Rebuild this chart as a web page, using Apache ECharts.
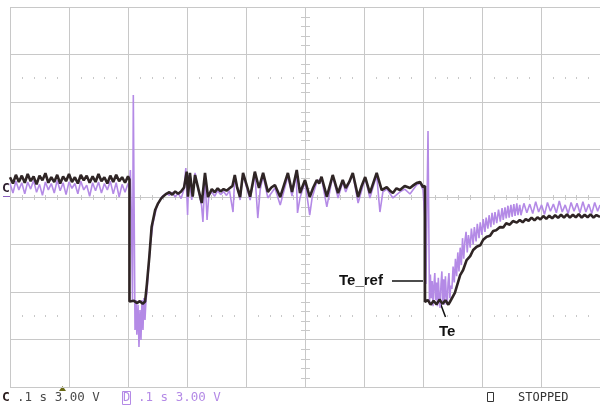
<!DOCTYPE html>
<html>
<head>
<meta charset="utf-8">
<script src="https://cdn.jsdelivr.net/npm/echarts@6/dist/echarts.min.js"></script>
<style>html,body{margin:0;padding:0;background:#fff}#chart{width:600px;height:410px}</style>
</head>
<body>
<div id="chart"></div>
<script>
// scope settings: 0.1 s/div, 3.00 V/div, 10 x 8 divisions
var timeMin = 0, timeMax = 1.0, timeDiv = 0.1;
var voltMin = -12, voltMax = 12, voltDiv = 3;

// channel C: Te_ref  [time s, volts]
var teRef = [
  [0.000,1.25],[0.005,0.85],[0.010,1.40],[0.015,0.95],[0.020,1.35],[0.025,0.90],[0.030,1.45],[0.035,1.00],
  [0.040,1.30],[0.045,0.80],[0.050,1.35],[0.055,1.05],[0.060,1.50],[0.065,0.90],[0.070,1.25],[0.075,0.95],
  [0.080,1.40],[0.085,0.85],[0.090,1.30],[0.095,1.00],[0.100,1.45],[0.105,0.95],[0.110,1.25],[0.115,0.85],
  [0.120,1.40],[0.125,1.05],[0.130,1.35],[0.135,0.90],[0.140,1.30],[0.145,0.95],[0.150,1.45],[0.155,1.00],
  [0.160,1.25],[0.165,0.85],[0.170,1.35],[0.175,0.95],[0.180,1.40],[0.185,1.00],[0.190,1.25],[0.195,0.90],
  [0.200,1.30],[0.2025,1.10],[0.2025,-6.60],
  [0.2050,-6.72],[0.2100,-6.55],[0.2150,-6.70],[0.2200,-6.58],[0.2250,-6.74],[0.2290,-6.60],
  [0.2320,-5.50],[0.2360,-3.85],[0.2400,-1.90],[0.2460,-0.82],[0.2510,-0.40],[0.2560,-0.10],[0.2600,0.05],
  [0.2650,0.20],[0.2700,0.30],[0.2750,0.15],[0.2800,0.35],[0.2850,0.20],[0.2900,0.35],[0.2950,0.60],
  [0.2995,1.60],[0.3017,0.02],[0.3050,1.52],[0.3097,0.02],[0.3136,1.39],[0.3180,0.70],[0.3250,-0.38],
  [0.3305,1.52],[0.3356,0.00],[0.3420,0.50],[0.3470,0.30],[0.3520,0.55],[0.3570,0.35],[0.3620,0.50],
  [0.3670,0.40],[0.3720,0.55],[0.3770,0.70],[0.3810,1.39],[0.3850,0.60],[0.3900,0.00],[0.3950,1.52],
  [0.4000,0.90],[0.4070,0.02],[0.4150,1.60],[0.4220,0.57],[0.4290,1.52],[0.4370,0.32],[0.4430,0.60],
  [0.4490,0.76],[0.4580,0.00],[0.4640,0.70],[0.4710,1.52],[0.4780,0.32],[0.4860,1.71],[0.4915,0.25],
  [0.5000,1.07],[0.5080,0.00],[0.5140,0.60],[0.5200,1.07],[0.5240,0.85],[0.5280,1.28],[0.5370,0.02],
  [0.5470,1.39],[0.5560,0.25],[0.5640,1.07],[0.5690,0.57],[0.5750,0.95],[0.5810,1.52],[0.5900,0.00],
  [0.5960,0.70],[0.6020,1.26],[0.6100,0.25],[0.6215,1.52],[0.6300,0.44],[0.6385,0.63],[0.6440,0.40],
  [0.6490,0.25],[0.6550,0.55],[0.6610,0.44],[0.6690,0.70],[0.6780,0.57],[0.6840,0.75],[0.6890,0.88],
  [0.6950,0.95],[0.7000,0.63],[0.7034,0.70],[0.7034,-6.63],
  [0.7080,-6.50],[0.7130,-6.80],[0.7180,-6.55],[0.7230,-6.78],[0.7280,-6.48],[0.7330,-6.75],[0.7380,-6.52],
  [0.7430,-6.80],[0.7460,-6.60],
  [0.7540,-6.06],[0.7630,-4.93],[0.7680,-4.61],[0.7740,-3.98],[0.7800,-3.73],[0.7850,-3.35],[0.7910,-3.14],
  [0.7970,-3.05],[0.8020,-2.70],[0.8080,-2.51],[0.8136,-2.45],[0.8190,-2.15],[0.8240,-2.10],[0.8305,-1.90],
  [0.8360,-1.92],[0.8410,-1.66],[0.8470,-1.75],[0.8525,-1.52],[0.8590,-1.62],
  [0.864,-1.45],[0.869,-1.60],[0.874,-1.40],[0.879,-1.50],[0.884,-1.30],[0.889,-1.48],[0.894,-1.28],
  [0.899,-1.42],[0.904,-1.20],[0.909,-1.38],[0.914,-1.18],[0.919,-1.35],[0.924,-1.15],[0.929,-1.32],
  [0.934,-1.12],[0.939,-1.30],[0.944,-1.10],[0.949,-1.30],[0.954,-1.12],[0.959,-1.28],[0.964,-1.08],
  [0.969,-1.30],[0.974,-1.12],[0.979,-1.28],[0.984,-1.10],[0.989,-1.30],[0.994,-1.14],[1.000,-1.26]
];

// channel D: Te  [time s, volts]
var te = [
  [0.000,0.85],[0.005,0.25],[0.010,1.00],[0.015,0.45],[0.020,0.90],[0.025,0.20],[0.030,0.95],[0.035,0.50],
  [0.040,1.05],[0.045,0.30],[0.050,0.80],[0.055,0.10],[0.060,0.95],[0.065,0.45],[0.070,0.85],[0.075,0.25],
  [0.080,1.05],[0.085,0.40],[0.090,0.90],[0.095,0.15],[0.100,0.95],[0.105,0.55],[0.110,0.85],[0.115,0.20],
  [0.120,1.00],[0.125,0.45],[0.130,0.75],[0.135,0.05],[0.140,0.90],[0.145,0.40],[0.150,0.95],[0.155,0.25],
  [0.160,0.85],[0.165,0.45],[0.170,1.00],[0.175,0.20],[0.180,0.90],[0.185,0.00],[0.190,0.80],[0.195,0.30],
  [0.200,0.85],
  [0.2025,0.60],[0.2040,1.70],[0.2060,-1.64],[0.2076,-6.50],[0.2090,6.44],[0.2100,6.44],[0.2119,-8.40],
  [0.2136,-6.50],[0.2150,-8.70],[0.2170,-6.80],[0.2186,-9.47],[0.2203,-7.14],[0.2220,-9.03],[0.2237,-6.50],
  [0.2254,-8.40],[0.2270,-6.38],[0.2288,-7.77],[0.2305,-6.50],[0.2320,-6.06],
  [0.2373,-3.16],[0.2424,-1.64],[0.2486,-0.63],[0.2570,0.00],[0.2656,0.25],[0.2700,0.10],[0.2750,0.30],
  [0.2800,0.00],[0.2850,0.25],[0.2900,-0.10],[0.2950,0.50],
  [0.2980,1.83],[0.3010,-1.14],[0.3030,1.39],[0.3080,-0.19],[0.3136,1.52],[0.3190,0.44],[0.3246,-0.51],
  [0.3270,-1.58],[0.3305,1.33],[0.3340,-1.45],[0.3370,0.13],[0.3420,0.30],[0.3470,0.05],[0.3520,0.40],
  [0.3570,0.15],[0.3620,0.35],[0.3670,0.10],[0.3720,0.40],[0.3780,-0.95],[0.3810,1.26],[0.3900,-0.19],
  [0.3950,1.39],[0.4070,-0.19],[0.4150,1.52],[0.4200,-1.33],[0.4240,0.44],[0.4290,1.33],[0.4370,-0.06],
  [0.4490,0.57],[0.4580,-0.51],[0.4710,1.33],[0.4780,0.06],[0.4850,1.58],[0.4873,-1.01],[0.4915,-0.06],
  [0.5000,0.95],[0.5080,-1.14],[0.5120,-0.06],[0.5200,0.95],[0.5280,1.20],[0.5370,-0.63],[0.5470,1.33],
  [0.5560,-0.06],[0.5640,0.95],[0.5690,0.32],[0.5810,1.45],[0.5900,-0.38],[0.6020,1.20],[0.6100,-0.06],
  [0.6215,1.39],[0.6270,-0.95],[0.6320,0.32],[0.6390,0.50],[0.6490,-0.06],[0.6610,0.32],[0.6690,0.50],
  [0.6780,0.19],[0.6890,0.76],[0.6950,0.88],[0.7000,0.44],[0.7034,-1.45],
  [0.7050,-5.50],[0.7085,4.17],[0.7110,-6.80],[0.7125,-4.90],[0.7140,-6.40],[0.7155,-5.30],[0.7170,-6.90],
  [0.7185,-5.60],[0.7200,-4.80],[0.7215,-6.50],[0.7230,-5.40],[0.7245,-6.90],[0.7260,-5.10],[0.7275,-6.30],
  [0.7290,-7.00],[0.7305,-5.50],[0.7320,-4.70],[0.7335,-6.60],[0.7350,-5.20],[0.7365,-6.80],[0.7380,-5.00],
  [0.7395,-6.20],[0.7410,-6.80],[0.7425,-5.40],[0.7440,-4.80],[0.7455,-6.40],[0.7470,-5.60],
  [0.749,-5.80],[0.751,-4.40],[0.753,-5.40],[0.755,-3.90],[0.757,-5.00],[0.759,-3.50],[0.761,-4.70],
  [0.763,-3.20],[0.765,-4.30],[0.767,-2.60],[0.769,-3.90],[0.771,-2.80],[0.773,-2.20],[0.775,-3.50],
  [0.777,-2.40],[0.780,-3.20],[0.782,-2.00],[0.785,-3.00],[0.787,-1.90],[0.790,-2.80],[0.792,-1.70],
  [0.795,-2.60],[0.797,-1.60],[0.800,-2.40],[0.802,-1.40],[0.805,-2.20],[0.807,-1.30],[0.810,-2.00],
  [0.812,-1.15],[0.815,-1.90],[0.817,-1.00],[0.820,-1.75],[0.822,-0.95],[0.825,-1.65],[0.828,-0.80],
  [0.831,-1.55],[0.834,-0.70],[0.836,-1.45],[0.839,-0.65],[0.841,-1.35],[0.844,-0.55],[0.846,-1.30],
  [0.849,-0.50],[0.851,-1.25],[0.854,-0.45],[0.856,-1.20],[0.859,-0.40],[0.861,-1.15],[0.864,-0.50],
  [0.866,-1.15],
  [0.871,-0.40],[0.876,-1.00],[0.881,-0.45],[0.886,-1.05],[0.891,-0.30],[0.896,-0.95],[0.901,-0.50],
  [0.906,-1.10],[0.911,-0.35],[0.916,-0.90],[0.921,-0.45],[0.926,-1.00],[0.931,-0.25],[0.936,-0.95],
  [0.941,-0.50],[0.946,-1.05],[0.951,-0.35],[0.956,-0.90],[0.961,-0.40],[0.966,-1.00],[0.971,-0.30],
  [0.976,-0.95],[0.981,-0.45],[0.986,-1.05],[0.991,-0.35],[0.996,-0.90],[1.000,-0.50]
];

var gridColor = '#c8c8c8';
var refColor = '#2f2525';
var teColor = '#b48ae6';
var monoFont = '"DejaVu Sans Mono", monospace';
var noteFont = 'bold 15px "Liberation Sans", Arial, sans-serif';

// dotted rows, center-axis ticks
function drawGraticule(params, api) {
  var kids = [];
  var st = { fill: gridColor };
  for (var i = 1; i < 50; i++) {
    if (i % 5 === 0) continue;
    var t = i * timeDiv / 5;
    [2.5 * voltDiv, -2.5 * voltDiv].forEach(function (v) {
      var p = api.coord([t, v]);
      kids.push({ type: 'rect', shape: { x: Math.round(p[0]), y: Math.round(p[1]) - 1, width: 1, height: 2 }, style: st });
    });
    var c = api.coord([t, 0]);
    kids.push({ type: 'rect', shape: { x: Math.round(c[0]), y: Math.round(c[1]) - 2, width: 1, height: 5 }, style: st });
  }
  for (var j = 1; j < 40; j++) {
    if (j % 5 === 0) continue;
    var q = api.coord([5 * timeDiv, voltMin + j * voltDiv / 5]);
    kids.push({ type: 'rect', shape: { x: Math.round(q[0]) - 4, y: Math.round(q[1]), width: 9, height: 1 }, style: st });
  }
  return { type: 'group', children: kids };
}

var chart = echarts.init(document.getElementById('chart'), null, { renderer: 'canvas' });
chart.setOption({
  animation: false,
  backgroundColor: '#fff',
  grid: { left: 10, top: 7, width: 590, height: 380 },
  xAxis: {
    type: 'value', min: timeMin, max: timeMax, interval: timeDiv,
    axisLine: { show: false }, axisTick: { show: false }, axisLabel: { show: false },
    splitLine: { show: true, lineStyle: { color: gridColor, width: 1 } }
  },
  yAxis: {
    type: 'value', min: voltMin, max: voltMax, interval: voltDiv,
    axisLine: { show: false }, axisTick: { show: false }, axisLabel: { show: false },
    splitLine: { show: true, lineStyle: { color: gridColor, width: 1 } }
  },
  series: [
    { type: 'custom', name: 'graticule', renderItem: drawGraticule, data: [[0, 0]], z: 1, silent: true },
    { type: 'line', name: 'Te', data: te, showSymbol: false, z: 2,
      lineStyle: { color: teColor, width: 1.6 } },
    { type: 'line', name: 'Te_ref', data: teRef, showSymbol: false, z: 3,
      lineStyle: { color: refColor, width: 2.6 } }
  ],
  graphic: [
    // channel ground marker
    { type: 'text', x: 2, y: 189, style: { text: 'C', font: 'bold 13px ' + monoFont, fill: '#2e1f2e', verticalAlign: 'middle' } },
    { type: 'line', shape: { x1: 3, y1: 196.5, x2: 10, y2: 196.5 }, style: { stroke: '#8a5fc0', lineWidth: 1 } },
    // trigger position marker
    { type: 'polygon', shape: { points: [[62.5, 386], [59, 391], [66, 391]] }, style: { fill: '#6a6a14' } },
    // annotations
    { type: 'text', x: 339, y: 281, style: { text: 'Te_ref', font: noteFont, fill: '#111', verticalAlign: 'middle' } },
    { type: 'line', shape: { x1: 392, y1: 281, x2: 426, y2: 281 }, style: { stroke: '#111', lineWidth: 1.5 } },
    { type: 'line', shape: { x1: 438, y1: 297, x2: 445.5, y2: 317 }, style: { stroke: '#111', lineWidth: 1.5 } },
    { type: 'text', x: 439, y: 332, style: { text: 'Te', font: noteFont, fill: '#111', verticalAlign: 'middle' } },
    // status line
    { type: 'text', x: 2, y: 398, style: { text: 'C', font: 'bold 13px ' + monoFont, fill: '#2b1d1d', verticalAlign: 'middle' } },
    { type: 'text', x: 17, y: 398, style: { text: '.1 s 3.00 V', font: '12.5px ' + monoFont, fill: '#4a4a4a', verticalAlign: 'middle' } },
    { type: 'rect', shape: { x: 122.5, y: 391.5, width: 8, height: 13 }, style: { fill: 'none', stroke: teColor, lineWidth: 1 } },
    { type: 'text', x: 123, y: 398, style: { text: 'D', font: '12px ' + monoFont, fill: teColor, verticalAlign: 'middle' } },
    { type: 'text', x: 138, y: 398, style: { text: '.1 s 3.00 V', font: '12.5px ' + monoFont, fill: teColor, verticalAlign: 'middle' } },
    { type: 'rect', shape: { x: 487.5, y: 392.5, width: 6, height: 9 }, style: { fill: 'none', stroke: '#333', lineWidth: 1 } },
    { type: 'text', x: 518, y: 398, style: { text: 'STOPPED', font: '12px ' + monoFont, fill: '#333', verticalAlign: 'middle' } }
  ]
});
</script>
</body>
</html>
